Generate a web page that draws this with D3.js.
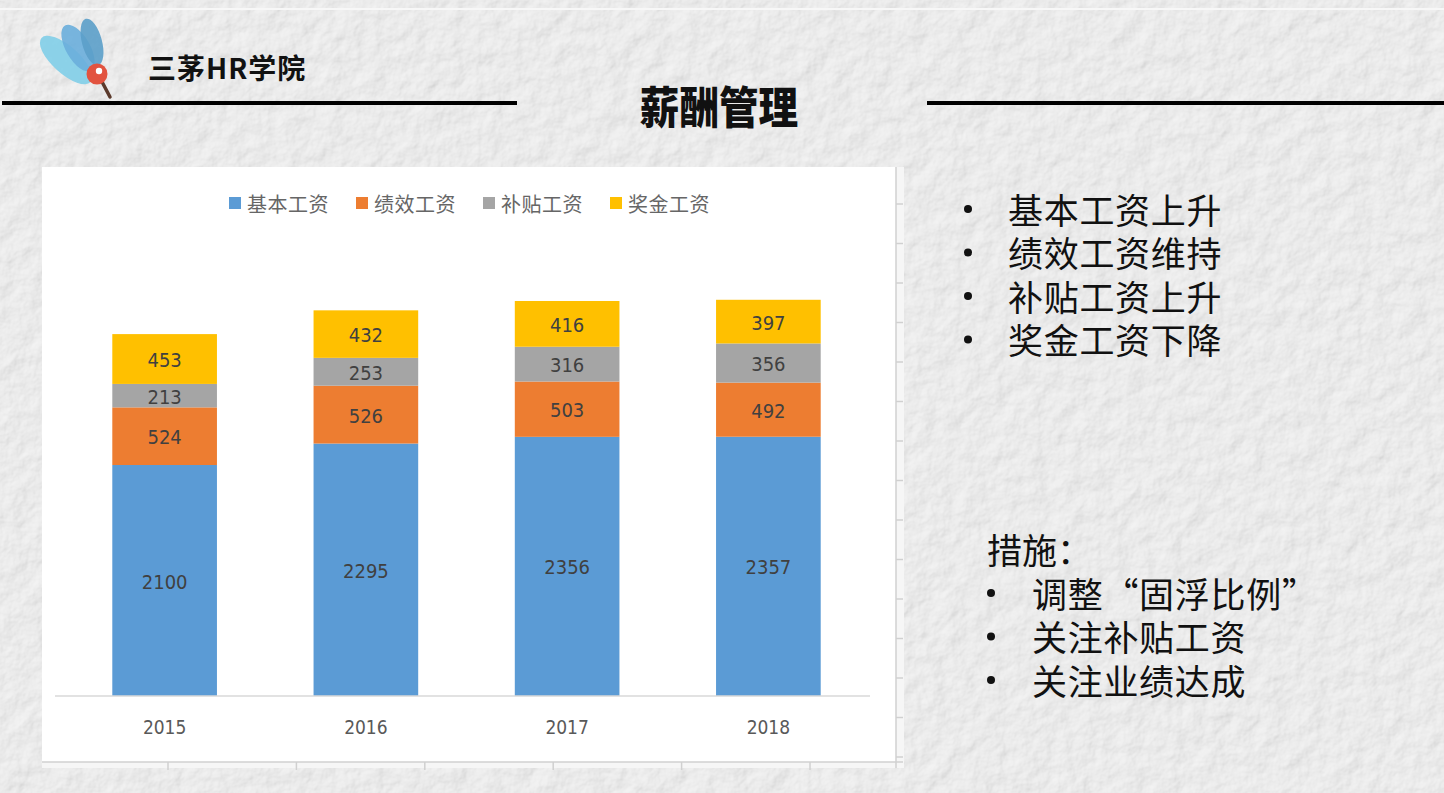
<!DOCTYPE html>
<html>
<head>
<meta charset="utf-8">
<script src="https://cdn.jsdelivr.net/npm/d3@7"></script>
<style>
  html, body { margin: 0; padding: 0; background: #ececec; }
  svg { display: block; }
</style>
</head>
<body>
<svg id="main" width="1444" height="793"></svg>
<script>
// chart values
const years = ["2015", "2016", "2017", "2018"];
const seriesNames = ["基本工资", "绩效工资", "补贴工资", "奖金工资"];
const basicPay = [2100, 2295, 2356, 2357];
const perfPay = [524, 526, 503, 492];
const subsidyPay = [213, 253, 316, 356];
const bonusPay = [453, 432, 416, 397];
const seriesColors = ["#5b9bd5", "#ed7d31", "#a5a5a5", "#ffc000"];

const points = ["基本工资上升", "绩效工资维持", "补贴工资上升", "奖金工资下降"];
const measures = ["调整“固浮比例”", "关注补贴工资", "关注业绩达成"];

function run() {
  let svg = d3.select("#main");
  let width = 1444, height = 793;

  // plaster-ish background
  let defs = svg.append("defs");
  let f = defs.append("filter").attr("id", "tex").attr("x", 0).attr("y", 0).attr("width", "100%").attr("height", "100%");
  f.append("feTurbulence").attr("type", "fractalNoise").attr("baseFrequency", 0.05).attr("numOctaves", 4).attr("seed", 7).attr("result", "n");
  f.append("feDiffuseLighting").attr("in", "n").attr("lighting-color", "#ffffff").attr("surfaceScale", 2.4)
    .append("feDistantLight").attr("azimuth", 225).attr("elevation", 55);

  svg.append("rect").attr("width", width).attr("height", height).attr("fill", "#ececec");
  svg.append("rect").attr("width", width).attr("height", height).attr("filter", "url(#tex)").attr("opacity", 0.4);
  svg.append("line").attr("x1", 0).attr("x2", width).attr("y1", 9).attr("y2", 9)
    .attr("stroke", "#f7f7f7").attr("stroke-width", 2);

  // logo
  let logo = svg.append("g");
  logo.append("ellipse").attr("cx", 66).attr("cy", 60).attr("rx", 33).attr("ry", 13.5)
    .attr("transform", "rotate(42,66,60)").attr("fill", "#86d0e8").attr("opacity", 0.95);
  logo.append("ellipse").attr("cx", 78).attr("cy", 48).attr("rx", 26).attr("ry", 12)
    .attr("transform", "rotate(60,78,48)").attr("fill", "#6aaedc").attr("opacity", 0.9);
  logo.append("ellipse").attr("cx", 92).attr("cy", 42).attr("rx", 24).attr("ry", 10)
    .attr("transform", "rotate(75,92,42)").attr("fill", "#5b9ec9").attr("opacity", 0.9);
  logo.append("line").attr("x1", 100).attr("y1", 78).attr("x2", 110).attr("y2", 97)
    .attr("stroke", "#5b3a2c").attr("stroke-width", 3.5).attr("stroke-linecap", "round");
  logo.append("circle").attr("cx", 97).attr("cy", 74).attr("r", 10.5).attr("fill", "#e2533f");
  logo.append("circle").attr("cx", 99).attr("cy", 71).attr("r", 3.2).attr("fill", "#fff");

  svg.append("text").attr("x", 148).attr("y", 67).attr("dominant-baseline", "central")
    .attr("font-family", "'Noto Sans CJK SC', sans-serif").attr("font-weight", 700)
    .attr("font-size", 28).attr("letter-spacing", 1).attr("fill", "#111").text("三茅HR学院");

  // header lines + title
  svg.append("line").attr("x1", 2).attr("x2", 517).attr("y1", 103).attr("y2", 103)
    .attr("stroke", "#000").attr("stroke-width", 4);
  svg.append("line").attr("x1", 927).attr("x2", width).attr("y1", 103).attr("y2", 103)
    .attr("stroke", "#000").attr("stroke-width", 4);
  svg.append("text").attr("transform", "translate(719,105) scale(0.9,1)")
    .attr("text-anchor", "middle").attr("dominant-baseline", "central")
    .attr("font-family", "'Noto Sans CJK SC', sans-serif").attr("font-weight", 900)
    .attr("font-size", 44).attr("fill", "#111").text("薪酬管理");

  // chart panel
  svg.append("rect").attr("x", 896).attr("y", 167).attr("width", 8).attr("height", 601).attr("fill", "#f6f6f6");
  svg.append("rect").attr("x", 42).attr("y", 762).attr("width", 862).attr("height", 6).attr("fill", "#f6f6f6");
  svg.append("rect").attr("x", 42).attr("y", 167).attr("width", 854).attr("height", 595).attr("fill", "#fff");
  svg.append("line").attr("x1", 896).attr("x2", 896).attr("y1", 167).attr("y2", 768)
    .attr("stroke", "#d0d0d0").attr("stroke-width", 1.5);
  svg.append("line").attr("x1", 42).attr("x2", 903).attr("y1", 762).attr("y2", 762)
    .attr("stroke", "#d0d0d0").attr("stroke-width", 1.5);
  svg.selectAll(".rtick").data(d3.range(204, 760, 39.5)).enter().append("line")
    .attr("x1", 896).attr("x2", 903).attr("y1", d => d).attr("y2", d => d)
    .attr("stroke", "#d0d0d0").attr("stroke-width", 1.5);
  svg.selectAll(".btick").data(d3.range(168, 820, 128.4)).enter().append("line")
    .attr("x1", d => d).attr("x2", d => d).attr("y1", 762).attr("y2", 770)
    .attr("stroke", "#d0d0d0").attr("stroke-width", 1.5);

  let x = d3.scaleBand().domain(years).range([64, 869]).paddingInner(0.48).paddingOuter(0.24);
  let y = d3.scaleLinear().domain([0, 4000]).range([696, 256]);
  let color = d3.scaleOrdinal().domain(seriesNames).range(seriesColors);

  let table = years.map((yr, i) => ({
    year: yr,
    "基本工资": basicPay[i], "绩效工资": perfPay[i], "补贴工资": subsidyPay[i], "奖金工资": bonusPay[i]
  }));
  let stacked = d3.stack().keys(seriesNames)(table);

  let layer = svg.append("g").selectAll("g").data(stacked).enter().append("g")
    .attr("fill", d => color(d.key));
  layer.selectAll("rect").data(d => d).enter().append("rect")
    .attr("x", d => x(d.data.year))
    .attr("width", x.bandwidth())
    .attr("y", d => y(d[1]))
    .attr("height", d => y(d[0]) - y(d[1]));

  // data labels
  layer.selectAll("text").data(d => d.map(v => ({ v, key: d.key }))).enter().append("text")
    .attr("x", d => x(d.v.data.year) + x.bandwidth() / 2)
    .attr("y", d => (y(d.v[0]) + y(d.v[1])) / 2 + 1)
    .attr("text-anchor", "middle").attr("dominant-baseline", "central")
    .attr("font-family", "'DejaVu Sans Condensed', 'DejaVu Sans', sans-serif")
    .attr("font-size", 20).attr("fill", "#404040")
    .text(d => d.v.data[d.key]);

  // x axis
  svg.append("line").attr("x1", 55).attr("x2", 870).attr("y1", y(0)).attr("y2", y(0))
    .attr("stroke", "#d9d9d9").attr("stroke-width", 1.5);
  let ax = svg.append("g").attr("transform", `translate(0,${y(0)})`)
    .call(d3.axisBottom(x).tickSize(0).tickPadding(31));
  ax.select(".domain").remove();
  ax.selectAll("text").attr("font-family", "'DejaVu Sans Condensed', 'DejaVu Sans', sans-serif")
    .attr("font-size", 19).attr("fill", "#595959").attr("dominant-baseline", "central").attr("dy", 0);

  // legend
  let lg = svg.append("g").selectAll("g").data(seriesNames).enter().append("g")
    .attr("transform", (d, i) => `translate(${229 + i * 127},203)`);
  lg.append("rect").attr("x", 0).attr("y", -6).attr("width", 12).attr("height", 12).attr("fill", d => color(d));
  lg.append("text").attr("x", 18).attr("y", 0).attr("dominant-baseline", "central")
    .attr("font-family", "'Noto Sans CJK SC', sans-serif").attr("font-size", 20).attr("letter-spacing", 0.5)
    .attr("fill", "#666").text(d => d);

  // right side notes
  let cjk = "'Noto Sans CJK SC', sans-serif";
  let p = svg.append("g").selectAll("g").data(points).enter().append("g")
    .attr("transform", (d, i) => `translate(0,${208 + i * 43.5})`);
  p.append("circle").attr("cx", 968).attr("cy", 1).attr("r", 4).attr("fill", "#111");
  p.append("text").attr("x", 1008).attr("dominant-baseline", "central")
    .attr("font-family", cjk).attr("font-size", 35).attr("letter-spacing", 0.7).attr("fill", "#111").text(d => d);

  svg.append("text").attr("x", 987).attr("y", 548).attr("dominant-baseline", "central")
    .attr("font-family", cjk).attr("font-size", 35).attr("fill", "#111").text("措施：");
  let m = svg.append("g").selectAll("g").data(measures).enter().append("g")
    .attr("transform", (d, i) => `translate(0,${592 + i * 43.5})`);
  m.append("circle").attr("cx", 991).attr("cy", 1).attr("r", 4).attr("fill", "#111");
  m.append("text").attr("x", 1032).attr("dominant-baseline", "central")
    .attr("font-family", cjk).attr("font-size", 35).attr("letter-spacing", 0.7).attr("fill", "#111").text(d => d);
}

run();
</script>
</body>
</html>
